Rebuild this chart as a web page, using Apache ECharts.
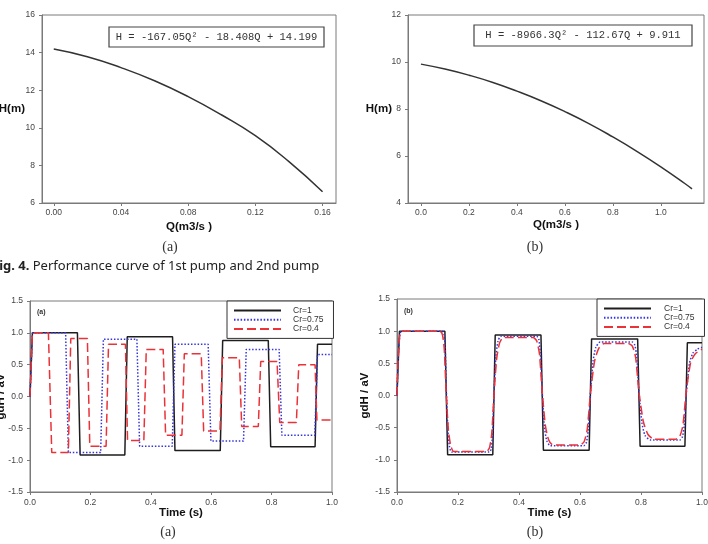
<!DOCTYPE html>
<html>
<head>
<meta charset="utf-8">
<script src="https://cdn.jsdelivr.net/npm/echarts@6/dist/echarts.min.js"></script>
<style>
  html, body { margin: 0; padding: 0; background: #fff; }
  #chart { width: 708px; height: 544px; }
</style>
</head>
<body>
<div id="chart"></div>
<script>
// pump performance curves
const pump1Q = [0, 0.02, 0.04, 0.06, 0.08, 0.10, 0.12, 0.14, 0.16]
const pump1H = [14.19, 13.78, 13.2, 12.5, 11.66, 10.68, 9.58, 8.2, 6.6]
const pump2Q = [0, 0.1, 0.2, 0.3, 0.4, 0.5, 0.6, 0.7, 0.8, 0.9, 1.0, 1.1, 1.13]
const pump2H = [9.91, 9.70, 9.44, 9.13, 8.76, 8.35, 7.89, 7.38, 6.81, 6.20, 5.54, 4.83, 4.60]

// Cr=1 (same in both panels)
const cr1Time = [0, 0.008, 0.157, 0.166, 0.314, 0.322, 0.472, 0.48, 0.63, 0.638, 0.789, 0.797, 0.944, 0.952, 1.0]
const cr1Value = [0, 1.0, 1.0, -0.92, -0.92, 0.94, 0.94, -0.85, -0.85, 0.88, 0.88, -0.79, -0.79, 0.82, 0.82]

// panel (a)
const aCr075Time = [0, 0.008, 0.118, 0.127, 0.234, 0.243, 0.354, 0.363, 0.471, 0.48, 0.59, 0.599, 0.707, 0.716, 0.825, 0.834, 0.943, 0.952, 1.0]
const aCr075Value = [0, 1.0, 1.0, -0.88, -0.88, 0.90, 0.90, -0.78, -0.78, 0.82, 0.82, -0.70, -0.70, 0.74, 0.74, -0.61, -0.61, 0.66, 0.66]
const aCr04Time = [0, 0.008, 0.061, 0.072, 0.127, 0.135, 0.19, 0.198, 0.252, 0.26, 0.316, 0.323, 0.377, 0.385,
  0.441, 0.449, 0.503, 0.511, 0.567, 0.575, 0.629, 0.637, 0.693, 0.701, 0.756, 0.764, 0.818, 0.827, 0.882, 0.89, 0.944, 0.95, 1.0]
const aCr04Value = [0, 1.0, 1.0, -0.88, -0.88, 0.91, 0.91, -0.78, -0.78, 0.82, 0.82, -0.69, -0.69, 0.74,
  0.74, -0.61, -0.61, 0.67, 0.67, -0.54, -0.54, 0.61, 0.61, -0.47, -0.47, 0.55, 0.55, -0.41, -0.41, 0.50, 0.50, -0.37, -0.37]

// panel (b)
const bCr075Time = [0, 0.004, 0.01, 0.016, 0.149, 0.154, 0.158, 0.162, 0.167, 0.172, 0.179,
  0.303, 0.309, 0.313, 0.318, 0.324, 0.331, 0.340, 0.458, 0.465, 0.47, 0.476, 0.483, 0.491, 0.502,
  0.613, 0.621, 0.627, 0.634, 0.643, 0.652, 0.666, 0.772, 0.78, 0.786, 0.793, 0.803, 0.813, 0.83,
  0.928, 0.936, 0.942, 0.949, 0.959, 0.97, 0.985, 1.0]
const bCr075Value = [0, 0.6, 0.97, 1.0, 1.0, 0.96, 0.74, 0.06, -0.55, -0.79, -0.88,
  -0.88, -0.83, -0.62, 0.02, 0.6, 0.84, 0.92, 0.92, 0.87, 0.66, 0.07, -0.48, -0.70, -0.78,
  -0.78, -0.73, -0.54, 0.02, 0.54, 0.75, 0.83, 0.83, 0.78, 0.60, 0.07, -0.42, -0.62, -0.69,
  -0.69, -0.64, -0.46, 0.05, 0.5, 0.66, 0.72, 0.75]
const bCr04Time = [0, 0.004, 0.01, 0.016, 0.141, 0.149, 0.155, 0.161, 0.1685, 0.176, 0.186,
  0.293, 0.303, 0.3105, 0.318, 0.327, 0.336, 0.348, 0.446, 0.458, 0.467, 0.476, 0.4865, 0.497, 0.511,
  0.599, 0.613, 0.6235, 0.634, 0.6475, 0.661, 0.679, 0.758, 0.772, 0.7825, 0.793, 0.808, 0.823, 0.843,
  0.913, 0.927, 0.9375, 0.948, 0.963, 0.978, 1.0]
const bCr04Value = [0, 0.6, 0.97, 1.0, 1.0, 0.944, 0.72, 0.065, -0.533, -0.777, -0.87,
  -0.87, -0.817, -0.604, 0.015, 0.581, 0.81, 0.90, 0.90, 0.85, 0.65, 0.065, -0.469, -0.687, -0.77,
  -0.77, -0.723, -0.533, 0.02, 0.526, 0.73, 0.81, 0.81, 0.765, 0.587, 0.065, -0.412, -0.606, -0.68,
  -0.68, -0.636, -0.461, 0.05, 0.517, 0.65, 0.72]

const qTicks1 = [0, 0.04, 0.08, 0.12, 0.16]
const qTicks2 = [0, 0.2, 0.4, 0.6, 0.8, 1.0]
const legendNames = ['Cr=1', 'Cr=0.75', 'Cr=0.4']

const FONT = 'Liberation Sans'
const frame = '#7a7a7a'
const black = '#1e1e1e'
const blue = '#3434e0'
const red = '#ea3238'

const zip = (xs, ys) => xs.map((x, i) => [x, ys[i]])

const tickLabel = { color: '#444', fontSize: 8.5, fontFamily: FONT }
const nameStyle = { color: '#111', fontSize: 11.5, fontWeight: 'bold', fontFamily: FONT }

function valueAxis(gridIndex, extra) {
  return Object.assign({
    type: 'value',
    gridIndex,
    nameMoveOverlap: false,
    axisLine: { show: true, onZero: false, lineStyle: { color: frame, width: 1 } },
    axisTick: { show: true, length: 3, lineStyle: { color: frame } },
    splitLine: { show: false },
    nameTextStyle: nameStyle
  }, extra)
}

function lineSeries(name, xi, data, color, type, smooth) {
  return {
    name,
    type: 'line',
    xAxisIndex: xi,
    yAxisIndex: xi,
    data,
    showSymbol: false,
    symbol: 'none',
    smooth: smooth || false,
    lineStyle: { color, width: 1.5, type },
    itemStyle: { color },
    silent: true
  }
}

function legendAt(left, top, textPad) {
  return {
    data: legendNames,
    left,
    top,
    orient: 'vertical',
    itemWidth: 47,
    itemHeight: 6,
    itemGap: 0.2,
    padding: [5, 10, 5, 6],
    borderColor: '#333',
    borderWidth: 1,
    backgroundColor: '#fff',
    selectedMode: false,
    itemStyle: { opacity: 0 },
    textStyle: { fontSize: 8.5, lineHeight: 9, color: '#333', fontFamily: FONT, padding: [0, 0, 0, textPad] }
  }
}

function gridAt(left, top, width, height) {
  return { left, top, width, height, show: true, borderColor: frame, borderWidth: 1, outerBoundsMode: 'none', containLabel: false }
}

const chart = echarts.init(document.getElementById('chart'), null, { renderer: 'canvas' })

const option = {
  animation: false,
  backgroundColor: '#fff',
  grid: [
    gridAt(42, 15, 294, 188),
    gridAt(408, 15, 296, 188),
    gridAt(30, 301, 302, 191),
    gridAt(397, 299, 305, 193)
  ],
  xAxis: [
    valueAxis(0, {
      min: -0.007, max: 0.168,
      name: 'Q(m3/s )', nameLocation: 'middle', nameGap: 18,
      axisTick: { show: true, length: 3, customValues: qTicks1, lineStyle: { color: frame } },
      axisLabel: Object.assign({ customValues: qTicks1, margin: 5, formatter: v => v.toFixed(2) }, tickLabel)
    }),
    valueAxis(1, {
      min: -0.054, max: 1.18,
      name: 'Q(m3/s )', nameLocation: 'middle', nameGap: 16,
      axisTick: { show: true, length: 3, customValues: qTicks2, lineStyle: { color: frame } },
      axisLabel: Object.assign({ customValues: qTicks2, margin: 5, formatter: v => v.toFixed(1) }, tickLabel)
    }),
    valueAxis(2, {
      min: 0, max: 1, interval: 0.2,
      name: 'Time (s)', nameLocation: 'middle', nameGap: 15,
      axisLabel: Object.assign({ margin: 6, formatter: v => v.toFixed(1) }, tickLabel)
    }),
    valueAxis(3, {
      min: 0, max: 1, interval: 0.2,
      name: 'Time (s)', nameLocation: 'middle', nameGap: 15,
      axisLabel: Object.assign({ margin: 6, formatter: v => v.toFixed(1) }, tickLabel)
    })
  ],
  yAxis: [
    valueAxis(0, {
      min: 6, max: 16, interval: 2,
      name: 'H(m)', nameLocation: 'middle', nameRotate: 0, nameGap: 17,
      axisLabel: Object.assign({ margin: 7 }, tickLabel)
    }),
    valueAxis(1, {
      min: 4, max: 12, interval: 2,
      name: 'H(m)', nameLocation: 'middle', nameRotate: 0, nameGap: 16,
      axisLabel: Object.assign({ margin: 7 }, tickLabel)
    }),
    valueAxis(2, {
      min: -1.5, max: 1.5, interval: 0.5,
      name: 'gdH / aV', nameLocation: 'middle', nameGap: 23,
      axisLabel: Object.assign({ margin: 7, formatter: v => v.toFixed(1) }, tickLabel)
    }),
    valueAxis(3, {
      min: -1.5, max: 1.5, interval: 0.5,
      name: 'gdH / aV', nameLocation: 'middle', nameGap: 26,
      axisLabel: Object.assign({ margin: 7, formatter: v => v.toFixed(1) }, tickLabel)
    })
  ],
  legend: [legendAt(227, 301, 7), legendAt(597, 299, 8)],
  series: [
    lineSeries('pump 1', 0, zip(pump1Q, pump1H), '#333', 'solid', true),
    lineSeries('pump 2', 1, zip(pump2Q, pump2H), '#333', 'solid', true),
    lineSeries('Cr=1', 2, zip(cr1Time, cr1Value), black, 'solid'),
    lineSeries('Cr=0.75', 2, zip(aCr075Time, aCr075Value), blue, [1.5, 1.8]),
    lineSeries('Cr=0.4', 2, zip(aCr04Time, aCr04Value), red, [9, 4]),
    lineSeries('Cr=1', 3, zip(cr1Time, cr1Value), black, 'solid'),
    lineSeries('Cr=0.75', 3, zip(bCr075Time, bCr075Value), blue, [1.5, 1.8], 0.2),
    lineSeries('Cr=0.4', 3, zip(bCr04Time, bCr04Value), red, [9, 4], 0.2)
  ],
  graphic: [
    // equation boxes
    { type: 'rect', shape: { x: 109, y: 27, width: 215, height: 20 }, style: { fill: '#fff', stroke: '#444', lineWidth: 1.2 }, z: 10 },
    { type: 'text', x: 216.5, y: 37, z: 11, style: { text: 'H = -167.05Q² - 18.408Q + 14.199', font: '10.5px "Liberation Mono"', fill: '#333', align: 'center', verticalAlign: 'middle' } },
    { type: 'rect', shape: { x: 474, y: 25, width: 218, height: 21 }, style: { fill: '#fff', stroke: '#444', lineWidth: 1.2 }, z: 10 },
    { type: 'text', x: 583, y: 35.5, z: 11, style: { text: 'H = -8966.3Q² - 112.67Q + 9.911', font: '10.5px "Liberation Mono"', fill: '#333', align: 'center', verticalAlign: 'middle' } },
    // panel tags
    { type: 'text', x: 37, y: 312, z: 11, style: { text: '(a)', font: 'bold 7px "Liberation Sans"', fill: '#333', verticalAlign: 'middle' } },
    { type: 'text', x: 404, y: 311, z: 11, style: { text: '(b)', font: 'bold 7px "Liberation Sans"', fill: '#333', verticalAlign: 'middle' } },
    // captions
    { type: 'text', x: 170, y: 247, z: 11, style: { text: '(a)', font: '14px "Liberation Serif"', fill: '#333', align: 'center', verticalAlign: 'middle' } },
    { type: 'text', x: 535, y: 247, z: 11, style: { text: '(b)', font: '14px "Liberation Serif"', fill: '#333', align: 'center', verticalAlign: 'middle' } },
    { type: 'text', x: 168, y: 532, z: 11, style: { text: '(a)', font: '14px "Liberation Serif"', fill: '#333', align: 'center', verticalAlign: 'middle' } },
    { type: 'text', x: 535, y: 532, z: 11, style: { text: '(b)', font: '14px "Liberation Serif"', fill: '#333', align: 'center', verticalAlign: 'middle' } },
    {
      type: 'text', x: -8, y: 266, z: 11,
      style: {
        text: '{b|Fig. 4.} Performance curve of 1st pump and 2nd pump',
        font: '13px "Noto Sans"', fill: '#222', verticalAlign: 'middle',
        rich: { b: { fontWeight: 'bold', fontSize: 13, fontFamily: 'Noto Sans', fill: '#222' } }
      }
    }
  ]
}

chart.setOption(option)
</script>
</body>
</html>
